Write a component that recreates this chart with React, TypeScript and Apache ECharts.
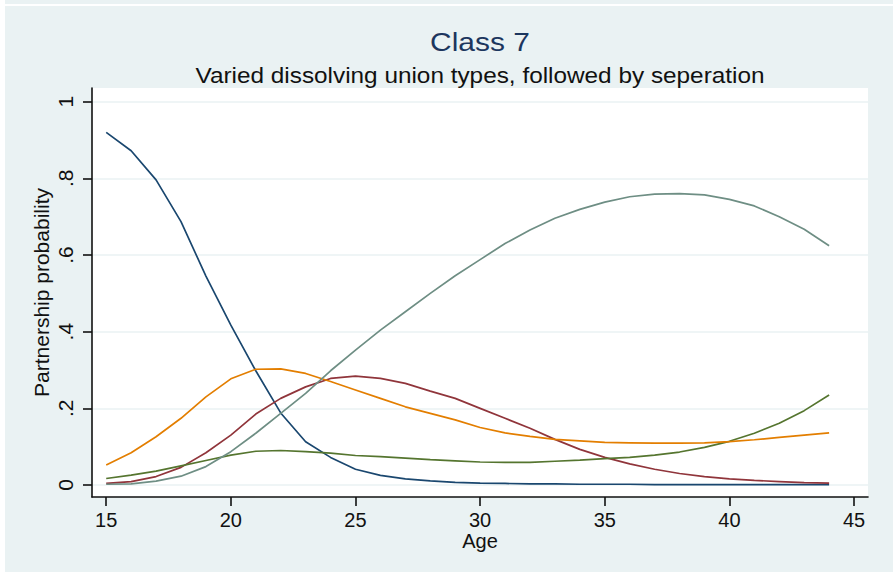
import { useEffect, useRef } from "react";
import * as echarts from "echarts";

// Age in years (x) and predicted partnership probabilities for each union state
const ages = [
  15, 16, 17, 18, 19, 20, 21, 22, 23, 24, 25, 26, 27, 28, 29,
  30, 31, 32, 33, 34, 35, 36, 37, 38, 39, 40, 41, 42, 43, 44,
];

const probNavy = [
  0.92, 0.872, 0.796, 0.687, 0.545, 0.417, 0.298, 0.188, 0.113, 0.072,
  0.041, 0.025, 0.016, 0.011, 0.007, 0.005, 0.004, 0.003, 0.003, 0.002,
  0.002, 0.002, 0.001, 0.001, 0.001, 0.001, 0.001, 0.001, 0.001, 0.001,
];

const probMaroon = [
  0.004, 0.009, 0.022, 0.046, 0.084, 0.13, 0.185, 0.226, 0.256, 0.278,
  0.284, 0.278, 0.265, 0.245, 0.226, 0.2, 0.174, 0.148, 0.119, 0.093,
  0.072, 0.055, 0.041, 0.03, 0.022, 0.016, 0.012, 0.009, 0.006, 0.005,
];

const probGreen = [
  0.017, 0.026, 0.036, 0.05, 0.064, 0.078, 0.088, 0.09, 0.087, 0.083,
  0.077, 0.074, 0.07, 0.066, 0.063, 0.06, 0.059, 0.059, 0.062, 0.065,
  0.069, 0.072, 0.078, 0.086, 0.098, 0.114, 0.135, 0.161, 0.194, 0.235,
];

const probOrange = [
  0.052, 0.084, 0.126, 0.174, 0.23, 0.277, 0.302, 0.303, 0.291, 0.27,
  0.248, 0.226, 0.204, 0.187, 0.17, 0.15, 0.136, 0.127, 0.119, 0.115,
  0.111, 0.11, 0.109, 0.109, 0.11, 0.113, 0.118, 0.124, 0.13, 0.136,
];

const probTeal = [
  0.002, 0.003, 0.01, 0.023, 0.048, 0.087, 0.135, 0.187, 0.239, 0.298,
  0.352, 0.404, 0.452, 0.5, 0.546, 0.588, 0.63, 0.665, 0.696, 0.719,
  0.738, 0.752, 0.759, 0.76, 0.757, 0.745, 0.728, 0.7, 0.667, 0.624,
];

const xTicks = [15, 20, 25, 30, 35, 40, 45];
const yTicks = [0, 0.2, 0.4, 0.6, 0.8, 1];

const titleText = "Class 7";
const subtitleText = "Varied dissolving union types, followed by seperation";
const xTitle = "Age";
const yTitle = "Partnership probability";

const FONT = "'Liberation Sans', Arial, sans-serif";
const BG = "#EAF2F3";
const AXIS = "#111111";

const lines = [
  { values: probNavy, color: "#1A476F" },
  { values: probMaroon, color: "#90353B" },
  { values: probGreen, color: "#55752F" },
  { values: probOrange, color: "#E37E00" },
  { values: probTeal, color: "#6E8E84" },
];

// Stata-style tick labels: 0, .2, .4, ..., 1
function yLabel(v: number): string {
  if (Math.abs(v) < 1e-9) return "0";
  if (Math.abs(v - 1) < 1e-9) return "1";
  return "." + String(Math.round(v * 10));
}

export default function App() {
  const ref = useRef<HTMLDivElement>(null);

  useEffect(() => {
    if (!ref.current) return;
    const chart = echarts.init(ref.current, null, { renderer: "svg" });
    chart.setOption({
      animation: false,
      backgroundColor: BG,
      textStyle: { fontFamily: FONT },
      graphic: [
        { type: "rect", shape: { x: 0, y: 0, width: 5, height: 572 }, style: { fill: "#ffffff" }, silent: true },
        { type: "rect", shape: { x: 0, y: 4, width: 893, height: 2 }, style: { fill: "#ffffff" }, silent: true },
        {
          type: "text",
          x: 480,
          y: 42,
          scaleX: 1.13,
          style: {
            text: titleText,
            fill: "#1C365E",
            font: `26.5px ${FONT}`,
            textAlign: "center",
            textVerticalAlign: "middle",
          },
        },
        {
          type: "text",
          x: 480,
          y: 75.5,
          scaleX: 1.107,
          style: {
            text: subtitleText,
            fill: "#111111",
            font: `22px ${FONT}`,
            textAlign: "center",
            textVerticalAlign: "middle",
          },
        },
      ],
      grid: {
        left: 92,
        top: 88,
        width: 776,
        height: 409,
        show: true,
        backgroundColor: "#ffffff",
        borderWidth: 0,
      },
      xAxis: {
        type: "value",
        min: 14.43,
        max: 45.56,
        name: xTitle,
        nameLocation: "middle",
        nameGap: 34,
        nameMoveOverlap: false,
        nameTextStyle: { fontSize: 20, lineHeight: 20, color: "#111111", fontFamily: FONT },
        axisLine: { show: true, onZero: false, lineStyle: { color: AXIS, width: 1.6 } },
        axisTick: { show: true, length: 9, customValues: xTicks, lineStyle: { color: AXIS, width: 1.6 } },
        axisLabel: {
          customValues: xTicks,
          margin: 13,
          fontSize: 20,
          lineHeight: 20,
          color: "#111111",
          fontFamily: FONT,
        },
        splitLine: { show: false },
      },
      yAxis: {
        type: "value",
        min: -0.0313,
        max: 1.0357,
        name: yTitle,
        nameLocation: "middle",
        nameGap: 40,
        nameMoveOverlap: false,
        nameTextStyle: { fontSize: 21, color: "#111111", fontFamily: FONT },
        axisLine: { show: true, onZero: false, lineStyle: { color: AXIS, width: 1.6 } },
        axisTick: { show: true, length: 9, customValues: yTicks, lineStyle: { color: AXIS, width: 1.6 } },
        axisLabel: {
          customValues: yTicks,
          rotate: 90,
          margin: 16,
          fontSize: 21,
          color: "#111111",
          fontFamily: FONT,
          formatter: (v: number) => yLabel(v),
        },
        splitLine: { show: true, lineStyle: { color: BG, width: 1.6 } },
      },
      series: lines.map((l) => ({
        type: "line",
        data: ages.map((a, i) => [a, l.values[i]]),
        showSymbol: false,
        symbol: "none",
        smooth: false,
        lineStyle: { color: l.color, width: 1.7 },
        itemStyle: { color: l.color },
      })),
    });
    return () => chart.dispose();
  }, []);

  return (
    <div
      ref={ref}
      style={{ position: "absolute", left: 0, top: 0, width: 893, height: 572 }}
    />
  );
}
